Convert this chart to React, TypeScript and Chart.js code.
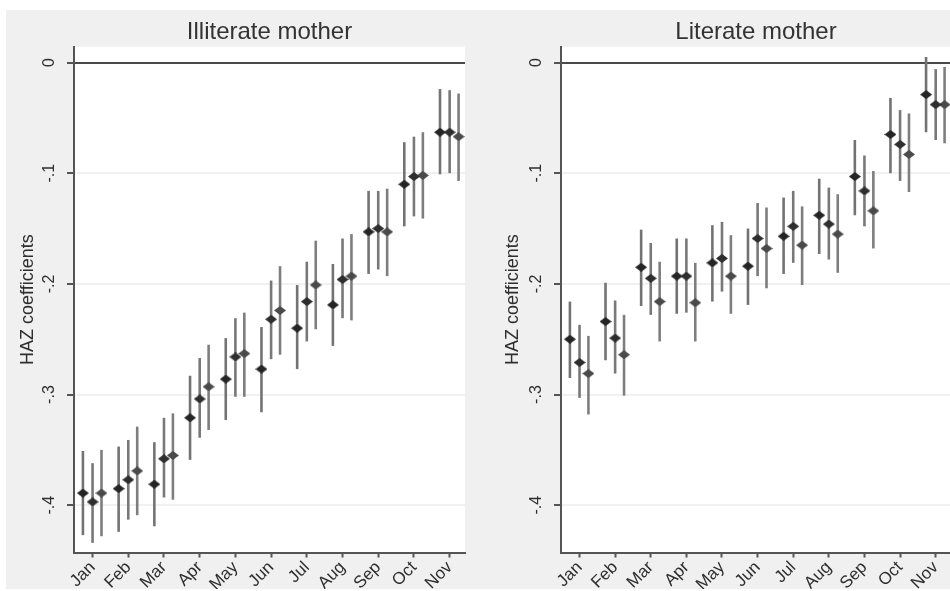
import React, { useEffect, useRef } from "react";
import { Chart, registerables } from "chart.js";

Chart.register(...registerables);

// Month labels on the x axis and y tick values/labels
const months = ["Jan", "Feb", "Mar", "Apr", "May", "Jun", "Jul", "Aug", "Sep", "Oct", "Nov"];
const yTickValues = [0, -0.1, -0.2, -0.3, -0.4];
const yTickLabels = ["0", "-.1", "-.2", "-.3", "-.4"];

// Illiterate mother: point estimates and 95% interval bounds, three specifications
const illit1Est = [-0.389, -0.385, -0.381, -0.321, -0.286, -0.277, -0.240, -0.219, -0.153, -0.110, -0.063];
const illit1Lo = [-0.427, -0.424, -0.419, -0.359, -0.323, -0.316, -0.277, -0.256, -0.191, -0.148, -0.101];
const illit1Hi = [-0.351, -0.347, -0.343, -0.283, -0.249, -0.239, -0.201, -0.182, -0.116, -0.072, -0.024];

const illit2Est = [-0.397, -0.377, -0.358, -0.304, -0.266, -0.232, -0.216, -0.196, -0.150, -0.103, -0.063];
const illit2Lo = [-0.434, -0.413, -0.393, -0.339, -0.302, -0.268, -0.252, -0.231, -0.187, -0.139, -0.100];
const illit2Hi = [-0.362, -0.341, -0.321, -0.267, -0.231, -0.197, -0.180, -0.159, -0.116, -0.067, -0.025];

const illit3Est = [-0.389, -0.369, -0.355, -0.293, -0.263, -0.224, -0.201, -0.193, -0.153, -0.102, -0.067];
const illit3Lo = [-0.428, -0.409, -0.395, -0.332, -0.302, -0.264, -0.241, -0.233, -0.193, -0.141, -0.107];
const illit3Hi = [-0.350, -0.329, -0.317, -0.255, -0.226, -0.184, -0.161, -0.155, -0.114, -0.063, -0.028];

// Literate mother
const lit1Est = [-0.250, -0.234, -0.185, -0.193, -0.181, -0.184, -0.157, -0.138, -0.103, -0.065, -0.029];
const lit1Lo = [-0.285, -0.269, -0.220, -0.227, -0.216, -0.219, -0.191, -0.173, -0.138, -0.100, -0.063];
const lit1Hi = [-0.216, -0.199, -0.151, -0.159, -0.147, -0.150, -0.122, -0.105, -0.070, -0.032, 0.005];

const lit2Est = [-0.271, -0.249, -0.195, -0.193, -0.177, -0.159, -0.148, -0.146, -0.116, -0.074, -0.038];
const lit2Lo = [-0.303, -0.281, -0.228, -0.226, -0.207, -0.193, -0.181, -0.178, -0.148, -0.107, -0.070];
const lit2Hi = [-0.237, -0.215, -0.163, -0.159, -0.144, -0.127, -0.116, -0.113, -0.084, -0.043, -0.006];

const lit3Est = [-0.281, -0.264, -0.216, -0.217, -0.193, -0.168, -0.165, -0.155, -0.134, -0.083, -0.038];
const lit3Lo = [-0.318, -0.301, -0.252, -0.252, -0.227, -0.204, -0.201, -0.190, -0.168, -0.117, -0.073];
const lit3Hi = [-0.247, -0.228, -0.180, -0.181, -0.156, -0.131, -0.130, -0.119, -0.098, -0.046, -0.004];

type Series = { label: string; est: number[]; lo: number[]; hi: number[] };

const illiterateSeries: Series[] = [
  { label: "Specification 1", est: illit1Est, lo: illit1Lo, hi: illit1Hi },
  { label: "Specification 2", est: illit2Est, lo: illit2Lo, hi: illit2Hi },
  { label: "Specification 3", est: illit3Est, lo: illit3Lo, hi: illit3Hi },
];
const literateSeries: Series[] = [
  { label: "Specification 1", est: lit1Est, lo: lit1Lo, hi: lit1Hi },
  { label: "Specification 2", est: lit2Est, lo: lit2Lo, hi: lit2Hi },
  { label: "Specification 3", est: lit3Est, lo: lit3Lo, hi: lit3Hi },
];

// Horizontal dodge of the three estimates around each month
const DODGE = [-0.27, 0, 0.25];
const MARKER_COLORS = ["#252525", "#2e2e2e", "#4a4a4a"];
const BAR_COLORS = ["#737373", "#787878", "#7e7e7e"];
const FONT = "'Liberation Sans', Arial, Helvetica, sans-serif";

Chart.defaults.font.family = FONT;

// Slightly flattened diamond marker
function diamond(color: string): HTMLCanvasElement {
  const w = 12;
  const h = 9;
  const c = document.createElement("canvas");
  c.width = w;
  c.height = h;
  const g = c.getContext("2d")!;
  g.fillStyle = color;
  g.beginPath();
  g.moveTo(w / 2, 0);
  g.lineTo(w, h / 2);
  g.lineTo(w / 2, h);
  g.lineTo(0, h / 2);
  g.closePath();
  g.fill();
  return c;
}

const plotBackground = {
  id: "plotBackground",
  beforeDraw(chart: any) {
    const { ctx, chartArea } = chart;
    ctx.save();
    ctx.fillStyle = "#ffffff";
    ctx.fillRect(chartArea.left, chartArea.top, chartArea.right - chartArea.left, chartArea.bottom - chartArea.top);
    ctx.restore();
  },
};

// Vertical confidence-interval spikes under each marker
const errorBars = {
  id: "errorBars",
  beforeDatasetsDraw(chart: any) {
    const { ctx, scales } = chart;
    const xs = scales.x;
    const ys = scales.y;
    ctx.save();
    chart.data.datasets.forEach((ds: any, i: number) => {
      ctx.strokeStyle = BAR_COLORS[i];
      ctx.lineWidth = 2.6;
      ds.data.forEach((p: any) => {
        const x = xs.getPixelForValue(p.x);
        ctx.beginPath();
        ctx.moveTo(x, ys.getPixelForValue(p.lo));
        ctx.lineTo(x, ys.getPixelForValue(p.hi));
        ctx.stroke();
      });
    });
    ctx.restore();
  },
};

type PanelProps = {
  title: string;
  series: Series[];
  left: number;
  width: number;
  yAxisWidth: number;
  yTitlePad: number;
  padRight: number;
};

function Panel({ title, series, left, width, yAxisWidth, yTitlePad, padRight }: PanelProps) {
  const ref = useRef<HTMLCanvasElement | null>(null);

  useEffect(() => {
    if (!ref.current) return;
    const datasets = series.map((s, i) => ({
      label: s.label,
      data: s.est.map((v, j) => ({ x: j + 1 + DODGE[i], y: v, lo: s.lo[j], hi: s.hi[j] })),
      pointStyle: diamond(MARKER_COLORS[i]),
      pointRadius: 6,
      pointBackgroundColor: MARKER_COLORS[i],
      pointBorderColor: MARKER_COLORS[i],
      showLine: false,
    }));

    const chart = new Chart(ref.current, {
      type: "scatter",
      data: { datasets },
      plugins: [plotBackground, errorBars],
      options: {
        animation: false,
        responsive: false,
        layout: { padding: { left: 0, top: 0, right: padRight, bottom: 0 } },
        plugins: {
          legend: { display: false },
          tooltip: { enabled: false },
          title: {
            display: true,
            text: title,
            fullSize: false,
            color: "#333333",
            font: { size: 24, weight: "normal", family: FONT },
            padding: { top: 8, bottom: 0 },
          },
        },
        scales: {
          x: {
            type: "linear",
            min: 0.48,
            max: 11.43,
            afterBuildTicks: (s: any) => {
              s.ticks = months.map((_, i) => ({ value: i + 1 }));
            },
            afterFit: (s: any) => {
              s.height = 36.5;
            },
            ticks: {
              autoSkip: false,
              minRotation: 45,
              maxRotation: 45,
              padding: 0,
              color: "#2e2e2e",
              font: { size: 17, family: FONT },
              callback: (v: any) => months[Math.round(Number(v)) - 1] ?? "",
            },
            grid: {
              drawOnChartArea: false,
              drawTicks: true,
              tickLength: 5,
              tickColor: "#555555",
              tickWidth: 2,
            },
            border: { display: true, color: "#555555", width: 2 },
          },
          y: {
            type: "linear",
            min: -0.4427,
            max: 0.0142,
            afterBuildTicks: (s: any) => {
              s.ticks = yTickValues.map((v) => ({ value: v }));
            },
            afterFit: (s: any) => {
              s.width = yAxisWidth;
            },
            title: {
              display: true,
              text: "HAZ coefficients",
              color: "#2e2e2e",
              font: { size: 18, family: FONT },
              padding: { top: yTitlePad, bottom: 0 },
            },
            ticks: {
              autoSkip: false,
              minRotation: 90,
              maxRotation: 90,
              crossAlign: "center",
              padding: 8,
              color: "#2e2e2e",
              font: { size: 16, family: FONT },
              callback: (v: any) => {
                const k = yTickValues.findIndex((t) => Math.abs(t - Number(v)) < 1e-9);
                return k >= 0 ? yTickLabels[k] : "";
              },
            },
            grid: {
              drawOnChartArea: true,
              drawTicks: true,
              tickLength: 7,
              tickColor: "#555555",
              tickWidth: 2,
              color: (c: any) => (c.tick && c.tick.value === 0 ? "#4a4a4a" : "#f1f1f1"),
              lineWidth: 2,
            },
            border: { display: true, color: "#555555", width: 2 },
          },
        },
      } as any,
    });
    return () => chart.destroy();
  }, [title, series, yAxisWidth, yTitlePad, padRight]);

  return (
    <canvas
      ref={ref}
      width={width}
      height={579}
      style={{ position: "absolute", left, top: 10, width, height: 579, display: "block" }}
    />
  );
}

export default function App() {
  return (
    <div
      style={{
        position: "fixed",
        left: 0,
        top: 0,
        width: 950,
        height: 591,
        background: "#ffffff",
        overflow: "hidden",
      }}
    >
      <div
        style={{ position: "absolute", left: 6, top: 10, width: 960, height: 579, background: "#f0f0f0" }}
      />
      <Panel
        title="Illiterate mother"
        series={illiterateSeries}
        left={6}
        width={484}
        yAxisWidth={68}
        yTitlePad={11}
        padRight={25}
      />
      <Panel
        title="Literate mother"
        series={literateSeries}
        left={490}
        width={468}
        yAxisWidth={71}
        yTitlePad={12}
        padRight={5}
      />
    </div>
  );
}
